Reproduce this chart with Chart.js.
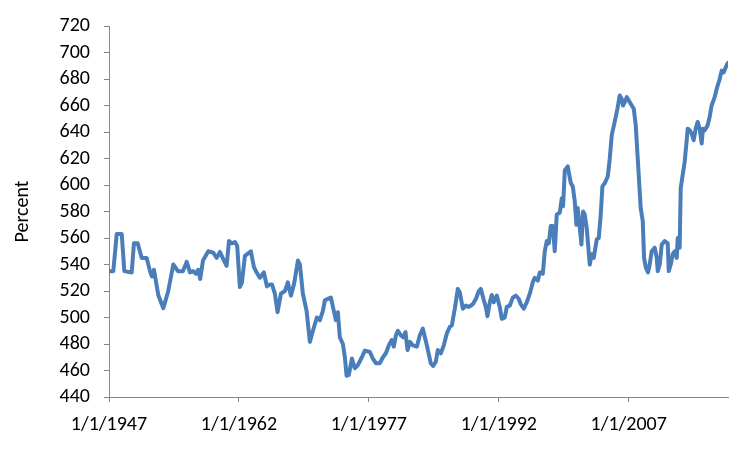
<!DOCTYPE html>
<html>
<head>
<meta charset="utf-8">
<script src="https://cdn.jsdelivr.net/npm/chart.js@4"></script>
<style>
  html, body { margin: 0; padding: 0; background: #fff; }
  #wrap { width: 750px; height: 450px; }
</style>
</head>
<body>
<div id="wrap"><canvas id="c" width="750" height="450"></canvas></div>
<script>
// Decimal-year positions of the read-off points
const years = [
  1947.00, 1947.50, 1947.89, 1948.47, 1948.77, 1949.62, 1949.88, 1950.31, 1950.77, 1951.35,
  1951.73, 1951.96, 1952.19, 1952.69, 1953.27, 1953.84, 1954.42, 1954.96, 1955.54, 1955.97,
  1956.35, 1956.69, 1957.04, 1957.30, 1957.53, 1957.85, 1958.46, 1959.03, 1959.43, 1959.81,
  1960.19, 1960.58, 1960.85, 1961.19, 1961.54, 1961.80, 1962.11, 1962.35, 1962.69, 1963.38,
  1963.73, 1964.04, 1964.42, 1964.88, 1965.23, 1965.58, 1965.81, 1966.15, 1966.46, 1966.85,
  1967.31, 1967.65, 1968.00, 1968.35, 1968.46, 1968.81, 1969.04, 1969.38, 1969.81, 1970.19,
  1970.54, 1971.00, 1971.35, 1971.69, 1971.92, 1972.27, 1972.62, 1972.85, 1973.19, 1973.42,
  1973.65, 1974.00, 1974.23, 1974.43, 1974.69, 1975.04, 1975.38, 1975.73, 1976.19, 1976.54,
  1977.12, 1977.46, 1977.81, 1978.27, 1978.62, 1978.96, 1979.31, 1979.65, 1979.88, 1980.12,
  1980.35, 1980.69, 1980.96, 1981.23, 1981.46, 1981.73, 1982.08, 1982.54, 1982.88, 1983.23,
  1983.69, 1984.15, 1984.42, 1984.73, 1984.96, 1985.31, 1985.65, 1986.00, 1986.35, 1986.58,
  1986.92, 1987.27, 1987.50, 1987.85, 1988.19, 1988.54, 1989.00, 1989.35, 1989.69, 1989.92,
  1990.27, 1990.50, 1990.69, 1990.96, 1991.19, 1991.42, 1991.77, 1992.11, 1992.35, 1992.69,
  1992.92, 1993.27, 1993.62, 1993.96, 1994.31, 1994.54, 1994.88, 1995.23, 1995.58, 1995.92,
  1996.15, 1996.50, 1996.73, 1997.08, 1997.31, 1997.54, 1997.77, 1998.00, 1998.23, 1998.46,
  1998.69, 1999.04, 1999.27, 1999.42, 1999.62, 1999.96, 2000.31, 2000.54, 2000.77, 2000.96,
  2001.11, 2001.35, 2001.54, 2001.73, 2001.92, 2002.15, 2002.50, 2002.73, 2002.96, 2003.31,
  2003.54, 2003.77, 2003.96, 2004.23, 2004.58, 2004.81, 2005.04, 2005.38, 2005.69, 2005.96,
  2006.19, 2006.34, 2006.54, 2006.77, 2007.12, 2007.58, 2007.81, 2008.04, 2008.27, 2008.38,
  2008.62, 2008.77, 2008.96, 2009.23, 2009.42, 2009.65, 2010.00, 2010.23, 2010.35, 2010.58,
  2010.81, 2011.15, 2011.50, 2011.62, 2011.85, 2012.08, 2012.31, 2012.54, 2012.65, 2012.88,
  2013.00, 2013.23, 2013.46, 2013.69, 2013.81, 2014.04, 2014.27, 2014.50, 2014.73, 2014.96,
  2015.19, 2015.42, 2015.57, 2015.77, 2016.11, 2016.34, 2016.57, 2016.92, 2017.15, 2017.50,
  2017.73, 2017.96, 2018.19, 2018.42
];

// Percent values
const values = [
  535, 535, 563, 563, 535, 534, 556, 556, 545, 545,
  535, 531, 536, 517, 507, 520, 540, 535, 535, 542,
  534, 535, 533, 536, 529, 543, 550, 549, 545, 549.5,
  544, 539, 557.7, 556, 557, 554, 523, 526.5, 546.5, 550,
  538, 534, 530, 534, 523.5, 525, 525, 518, 504, 518,
  520, 526.5, 516.5, 525, 529, 543, 540, 518, 505, 481.6,
  490, 500, 498, 505, 513, 514, 515, 508, 498, 504,
  485, 480, 470, 456, 456.7, 469, 461.7, 464, 470, 475,
  474, 469, 465.5, 465.5, 470, 473, 479, 483, 478, 486.6,
  490, 486.6, 485, 489, 475.4, 481.6, 479, 478, 486.6, 491.6,
  479, 465.5, 463.4, 466.6, 475.4, 473, 479, 488, 493, 494,
  506.6, 521.6, 519, 506.6, 509, 508, 510, 514, 520, 521.6,
  513, 508, 501, 511.5, 517, 511.5, 516.6, 508, 499, 500,
  508, 509, 515, 516.6, 514, 510, 506.6, 511.5, 518, 526.5,
  530, 527.8, 534, 533, 550, 557.7, 556, 569, 569, 550,
  577.7, 579, 590, 584, 611, 614, 601.4, 599, 587.7, 570,
  582.7, 567.7, 555, 580, 577.7, 567.7, 540, 547.8, 545, 559,
  560, 577.7, 599, 601.4, 606.4, 620, 637.6, 647.6, 657.5, 667.5,
  665, 660, 662.5, 666.3, 662.5, 657.5, 645, 620, 595, 582.7,
  572.7, 545, 538, 534, 540, 550, 552.7, 545, 535, 540,
  555, 557.7, 556, 535, 540, 547.8, 550, 545, 560, 552.7,
  597.6, 607.7, 617.6, 633.8, 642.5, 641.3, 638.8, 633.8, 642.5, 647.6,
  642.5, 631.3, 642.5, 641.3, 645, 651.3, 660, 666.3, 672.5, 680,
  686.3, 685, 688.7, 692
];

const tickYears = [1947, 1962, 1977, 1992, 2007];
const axisStart = 1947;
const axisEnd = 2018.46;
const yMin = 440, yMax = 720, yStep = 20;
const yTitle = 'Percent';

const FONT = "Carlito, 'Liberation Sans', Arial, sans-serif";
const axisColor = '#868686';

const points = years.map((x, i) => ({ x: x, y: values[i] }));

new Chart(document.getElementById('c'), {
  type: 'line',
  data: {
    datasets: [{
      data: points,
      borderColor: '#4A7EBB',
      borderWidth: 4,
      pointRadius: 0,
      tension: 0,
      fill: false,
      borderJoinStyle: 'round',
      borderCapStyle: 'round'
    }]
  },
  options: {
    responsive: false,
    animation: false,
    layout: { padding: { left: 0, right: 22, top: 23, bottom: 0 } },
    plugins: { legend: { display: false }, tooltip: { enabled: false } },
    scales: {
      x: {
        type: 'linear',
        min: axisStart,
        max: axisEnd,
        afterBuildTicks: (scale) => { scale.ticks = tickYears.map(v => ({ value: v })); },
        afterFit: (scale) => { scale.height = 53; },
        ticks: {
          autoSkip: false,
          maxRotation: 0,
          padding: 11,
          color: '#000',
          font: { family: FONT, size: 20 },
          callback: (v) => '1/1/' + v
        },
        grid: { drawOnChartArea: false, drawTicks: true, tickLength: 5, color: axisColor },
        border: { color: axisColor, width: 1 }
      },
      y: {
        min: yMin,
        max: yMax,
        afterFit: (scale) => { scale.width = 109; },
        ticks: {
          stepSize: yStep,
          autoSkip: false,
          padding: 14,
          color: '#000',
          font: { family: FONT, size: 20 }
        },
        title: {
          display: true,
          text: yTitle,
          color: '#000',
          font: { family: FONT, size: 20 },
          padding: { top: 11, bottom: 0 }
        },
        grid: { drawOnChartArea: false, drawTicks: true, tickLength: 5, color: axisColor },
        border: { color: axisColor, width: 1 }
      }
    }
  }
});
</script>
</body>
</html>
